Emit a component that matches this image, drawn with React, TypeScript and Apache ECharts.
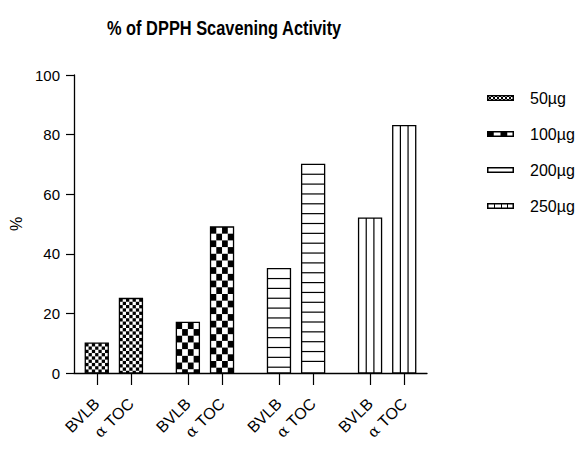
import React, { useEffect, useRef } from "react";
import * as echarts from "echarts";

const titleText = "% of DPPH Scavening Activity";
const groups = ["50µg", "100µg", "200µg", "250µg"];
const members = ["BVLB", "α TOC"];
const bvlbValues = [10, 17, 35, 52];
const atocValues = [25, 49, 70, 83];
const yTicks = [0, 20, 40, 60, 80, 100];

// category slots: each group occupies 8 slots, bars sit at slot 2 and 5
const categories: string[] = groups.flatMap(() => ["", "", members[0], "", "", members[1], "", ""]);
const slotOf = (g: number, m: number) => g * 8 + 2 + m * 3;

const BAR_W = 23;

function renderBar(kind: number) {
  return (_params: any, api: any) => {
    const xi = api.value(0);
    const v = api.value(1);
    const top = api.coord([xi, v]);
    const base = api.coord([xi, 0]);
    const w = BAR_W;
    const x0 = top[0] - w / 2;
    const y0 = top[1];
    const h = base[1] - top[1];
    const children: any[] = [
      { type: "rect", shape: { x: x0, y: y0, width: w, height: h }, style: { fill: "#fff" } },
    ];
    if (kind === 0 || kind === 1) {
      const cols = kind === 0 ? 7 : 4;
      const cw = w / cols;
      const ch = kind === 0 ? cw : 6.7;
      const rows = Math.ceil(h / ch);
      for (let r = 0; r < rows; r++) {
        for (let c = 0; c < cols; c++) {
          if ((r + c) % 2 === 0) {
            const yy = y0 + r * ch;
            const hh = Math.min(ch, y0 + h - yy);
            if (hh > 0) {
              children.push({
                type: "rect",
                shape: { x: x0 + c * cw, y: yy, width: cw, height: hh },
                style: { fill: "#000" },
              });
            }
          }
        }
      }
    } else if (kind === 2) {
      for (let yy = y0 + 9.85; yy < y0 + h - 2; yy += 9.85) {
        children.push({
          type: "line",
          shape: { x1: x0, y1: yy, x2: x0 + w, y2: yy },
          style: { stroke: "#000", lineWidth: 1.2 },
        });
      }
    } else {
      for (let i = 1; i < 3; i++) {
        const xx = x0 + (w * i) / 3;
        children.push({
          type: "line",
          shape: { x1: xx, y1: y0, x2: xx, y2: y0 + h },
          style: { stroke: "#000", lineWidth: 1.2 },
        });
      }
    }
    children.push({
      type: "rect",
      shape: { x: x0, y: y0, width: w, height: h },
      style: { fill: "none", stroke: "#000", lineWidth: 1.3 },
    });
    return { type: "group", children };
  };
}

function makeIcon(kind: number): string {
  const W = 27;
  const H = 6;
  const c = document.createElement("canvas");
  c.width = W;
  c.height = H;
  const ctx = c.getContext("2d");
  if (!ctx) return "";
  ctx.fillStyle = "#fff";
  ctx.fillRect(0, 0, W, H);
  ctx.fillStyle = "#000";
  if (kind === 0) {
    for (let x = 0; x < W; x += 2) {
      for (let y = 0; y < H; y += 2) {
        if (((x + y) / 2) % 2 === 0) ctx.fillRect(x, y, 2, 2);
      }
    }
  } else if (kind === 1) {
    const cw = W / 4;
    for (let i = 0; i < 4; i += 2) ctx.fillRect(i * cw, 0, cw, H);
  } else if (kind === 3) {
    ctx.strokeStyle = "#000";
    ctx.lineWidth = 1;
    for (let i = 1; i < 4; i++) {
      const xx = Math.round((W * i) / 4) + 0.5;
      ctx.beginPath();
      ctx.moveTo(xx, 0);
      ctx.lineTo(xx, H);
      ctx.stroke();
    }
  }
  ctx.strokeStyle = "#000";
  ctx.lineWidth = 1.5;
  ctx.strokeRect(0.75, 0.75, W - 1.5, H - 1.5);
  return "image://" + c.toDataURL();
}

export default function App() {
  const ref = useRef<HTMLDivElement>(null);
  useEffect(() => {
    document.body.style.margin = "0";
    if (!ref.current) return;
    const chart = echarts.init(ref.current, undefined, { renderer: "svg" });
    const font = "'Liberation Sans', Arial, sans-serif";
    chart.setOption({
      animation: false,
      textStyle: { fontFamily: font, color: "#000" },
      graphic: [
        {
          type: "text",
          x: 107,
          y: 28,
          scaleX: 0.82,
          style: {
            text: titleText,
            x: 0,
            y: 0,
            fill: "#000",
            font: "bold 20px 'Liberation Sans', Arial, sans-serif",
            textAlign: "left",
            textVerticalAlign: "middle",
            verticalAlign: "middle",
          },
        },
      ],
      legend: {
        orient: "vertical",
        left: 487,
        top: 90,
        padding: 0,
        itemWidth: 27,
        itemHeight: 6,
        itemGap: 20,
        textStyle: { fontSize: 16, color: "#000", fontFamily: font, padding: [0, 0, 0, 11] },
        data: groups.map((g, i) => ({ name: g, icon: makeIcon(i) })),
      },
      grid: { left: 74, right: 154, top: 75, bottom: 77, containLabel: false },
      xAxis: {
        type: "category",
        data: categories,
        boundaryGap: false,
        axisLine: { show: true, lineStyle: { color: "#000", width: 1.3 } },
        axisTick: {
          show: true,
          length: 12,
          lineStyle: { color: "#000", width: 1.2 },
          interval: (_i: number, v: string) => v !== "",
        },
        axisLabel: {
          interval: 0,
          rotate: 45,
          margin: 28,
          fontSize: 16,
          color: "#000",
          fontFamily: font,
          formatter: (v: string) => (v.startsWith("α") ? "{a|α}{t|" + v.slice(1) + "}" : v),
          rich: {
            a: { fontFamily: "'DejaVu Serif', 'Liberation Serif', serif", fontSize: 15, color: "#000" },
            t: { fontFamily: font, fontSize: 16, color: "#000" },
          },
        },
        splitLine: { show: false },
      },
      yAxis: {
        type: "value",
        min: yTicks[0],
        max: yTicks[yTicks.length - 1],
        interval: yTicks[1] - yTicks[0],
        name: "%",
        nameLocation: "middle",
        nameRotate: 90,
        nameGap: 44,
        nameTextStyle: { fontSize: 16, color: "#000", fontFamily: font },
        axisLine: { show: true, lineStyle: { color: "#000", width: 1.3 } },
        axisTick: { show: true, length: 8, lineStyle: { color: "#000", width: 1.2 } },
        axisLabel: { fontSize: 15, color: "#000", margin: 14, fontFamily: font },
        splitLine: { show: false },
      },
      series: groups.map((g, gi) => ({
        type: "custom",
        name: g,
        renderItem: renderBar(gi),
        encode: { x: 0, y: 1 },
        data: [
          [slotOf(gi, 0), bvlbValues[gi]],
          [slotOf(gi, 1), atocValues[gi]],
        ],
      })),
    });
    return () => chart.dispose();
  }, []);
  return <div ref={ref} style={{ width: 581, height: 450 }} />;
}
